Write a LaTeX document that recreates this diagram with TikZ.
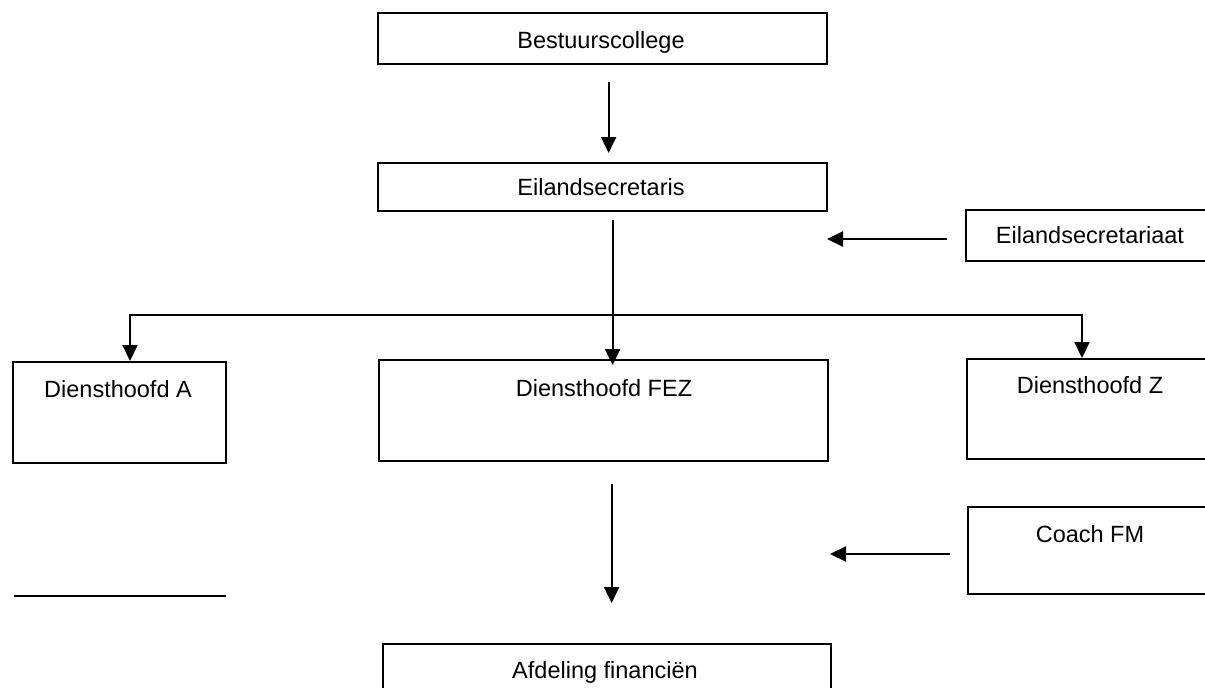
\documentclass[tikz,border=0pt]{standalone}
\usepackage{fontspec}
\setmainfont{Liberation Sans}
\usetikzlibrary{arrows.meta}
\begin{document}
\begin{tikzpicture}[x=1pt,y=-1pt,
  box/.style={draw,line width=2.2pt,inner sep=0pt,anchor=north west},
  lbl/.style={anchor=base,inner sep=0pt,font=\fontsize{23.5}{28}\selectfont},
  arr/.style={line width=2.2pt,-{Triangle[length=16pt,width=15pt]}},
  ln/.style={line width=2.2pt}]
\useasboundingbox (0,0) rectangle (1205,688);
\clip (0,0) rectangle (1205,688);
\fill[white] (0,0) rectangle (1205,688);
% boxes
\node[box,minimum width=449pt,minimum height=51pt] (bc) at (377,12) {};
\node[box,minimum width=449pt,minimum height=48pt] (es) at (377,162) {};
\node[box,minimum width=265pt,minimum height=51pt] (esa) at (965,209) {};
\node[box,minimum width=213pt,minimum height=101pt] (dA) at (12,361) {};
\node[box,minimum width=449pt,minimum height=101pt] (fez) at (378,359) {};
\node[box,minimum width=264pt,minimum height=100pt] (dZ) at (966,358) {};
\node[box,minimum width=263pt,minimum height=87pt] (coach) at (967,506) {};
\node[box,minimum width=448pt,minimum height=80pt] (afd) at (382,643) {};
% texts
\node[lbl] (bct) at (601,48) {Bestuurscollege};
\node[lbl] (est) at (601,195) {Eilandsecretaris};
\node[lbl] (esat) at (1090,243) {Eilandsecretariaat};
\node[lbl] (dAt) at (118,397) {Diensthoofd A};
\node[lbl] (fezt) at (604,396) {Diensthoofd FEZ};
\node[lbl] (dZt) at (1090,393) {Diensthoofd Z};
\node[lbl] (coacht) at (1090,542) {Coach FM};
\node[lbl] (afdt) at (605,678) {Afdeling financiën};
% helper coordinates
\coordinate (jn) at (611,315);
\coordinate (esaend) at (827,239);
\coordinate (coachend) at (830,554);
\coordinate (loose1) at (14,596);
\coordinate (loose2) at (226,596);
% connectors
\draw[arr,shorten <=17pt,shorten >=9pt] ([xshift=6pt]bc.south) -- ([xshift=6pt]bc.south |- es.north);
\draw[arr,shorten <=8pt,shorten >=-6pt] ([xshift=10pt]es.south) -- ([xshift=9pt]fez.north);
\draw[arr] (jn) -| ([xshift=118pt]dA.north west);
\draw[arr] (jn) -| ([xshift=116pt]dZ.north west);
\draw[arr,shorten <=18pt] (esa.west |- esaend) -- (esaend);
\draw[arr,shorten <=17pt] (coach.west |- coachend) -- (coachend);
\draw[arr,shorten <=22pt,shorten >=40pt] ([xshift=8pt]fez.south) -- ([xshift=8pt]fez.south |- afd.north);
\draw[ln] (loose1) -- (loose2);
\end{tikzpicture}
\end{document}
